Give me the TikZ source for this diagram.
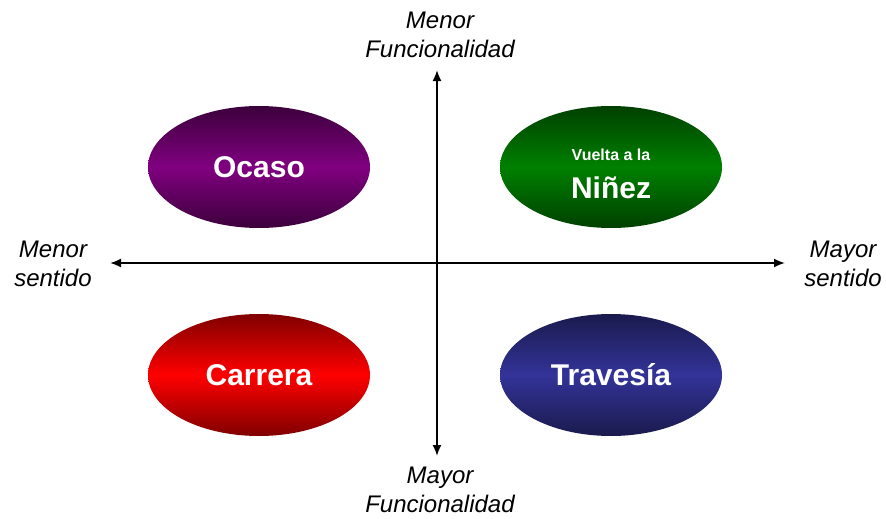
\documentclass[tikz,border=0pt]{standalone}
\usepackage{fontspec}
\setmainfont{Liberation Sans}
\usetikzlibrary{shapes.geometric, positioning, arrows.meta}
\tikzset{>={Latex[length=11pt, width=9pt]}, % solid arrow heads on the axes
axis/.style={<->, line width=1.8pt}, % both axes
etapa/.style={ellipse, minimum width=222pt, minimum height=122pt, inner sep=0pt, text=white, font=\bfseries\fontsize{30}{36}\selectfont, shading=axis, shading angle=0}, % the four ellipses
rotulo/.style={align=center, inner sep=0pt, font=\itshape\fontsize{24}{29}\selectfont}, % axis labels
}

\begin{document}
\begin{tikzpicture}[x=1pt, y=-1pt]
    \useasboundingbox (0,0) rectangle (886,519);
    \coordinate (arriba) at (437,70);
    \coordinate (abajo) at (437,456);
    \coordinate (izq) at (110,263);
    \coordinate (der) at (785,263);
    \draw[axis] (izq) -- (der);
    \draw[axis] (arriba) -- (abajo);
    \node[etapa, top color={rgb,255:red,60;green,0;blue,60}, bottom color={rgb,255:red,60;green,0;blue,60}, middle color={rgb,255:red,128;green,0;blue,128}] (ocaso) at (259,167) {Ocaso};
    \node[etapa, top color={rgb,255:red,0;green,64;blue,0}, bottom color={rgb,255:red,0;green,64;blue,0}, middle color={rgb,255:red,0;green,128;blue,0}, align=center] (ninez) at (611,167) {{\fontsize{16}{18}\selectfont\rule{0pt}{26pt}Vuelta a la}\\[2pt]Niñez};
    \node[etapa, top color={rgb,255:red,128;green,0;blue,0}, bottom color={rgb,255:red,128;green,0;blue,0}, middle color={rgb,255:red,255;green,0;blue,0}] (carrera) at (259,375) {Carrera};
    \node[etapa, top color={rgb,255:red,26;green,26;blue,77}, bottom color={rgb,255:red,26;green,26;blue,77}, middle color={rgb,255:red,51;green,51;blue,153}] (travesia) at (611,375) {Travesía};
    \node[rotulo] (menorf) at (440,35) {Menor\\Funcionalidad};
    \node[rotulo] (mayorf) at (440,490) {Mayor\\Funcionalidad};
    \node[rotulo] (menors) at (53,264) {Menor\\sentido};
    \node[rotulo] (mayors) at (843,264) {Mayor\\sentido};
\end{tikzpicture}
\end{document}
